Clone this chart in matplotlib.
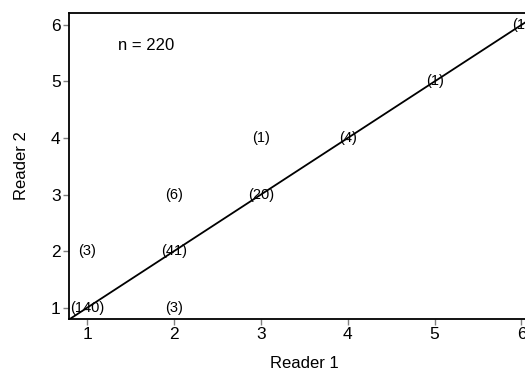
import numpy as np
import matplotlib.pyplot as plt

plt.rcParams['font.family'] = ['Liberation Sans', 'DejaVu Sans']

# agreement counts: reader 1 score, reader 2 score, number of cases
reader1 = [1, 2, 1, 2, 2, 3, 3, 4, 5, 6]
reader2 = [1, 1, 2, 2, 3, 3, 4, 4, 5, 6]
counts = [140, 3, 3, 41, 6, 20, 1, 4, 1, 1]
ticks = [1, 2, 3, 4, 5, 6]
n_total = 220

fig = plt.figure(figsize=(5.25, 3.72), dpi=100)
ax = fig.add_axes([0.1314, 0.1425, 0.895, 0.8226])

xmin, xmax = 0.79, 6.2
ymin, ymax = 0.8, 6.21
ax.set_xlim(xmin, xmax)
ax.set_ylim(ymin, ymax)

# line of perfect agreement
ax.plot([xmin, xmax], [xmin, xmax], color='black', lw=1.3)

for x, y, c in zip(reader1, reader2, counts):
    ax.text(x, y, '(%d)' % c, ha='center', va='center', fontsize=10.5, color='black')

ax.text(1.35, 5.63, 'n = %d' % n_total, ha='left', va='center', fontsize=12)

ax.set_xticks(ticks)
ax.set_yticks(ticks)
ax.tick_params(axis='both', direction='out', length=4, width=1, color='gray',
               labelsize=12.5, pad=2)
for s in ax.spines.values():
    s.set_linewidth(1.3)

ax.set_xlabel('Reader 1', fontsize=12, labelpad=10)
ax.set_ylabel('Reader 2', fontsize=12, labelpad=16)

fig.savefig('out.png', dpi=100)
